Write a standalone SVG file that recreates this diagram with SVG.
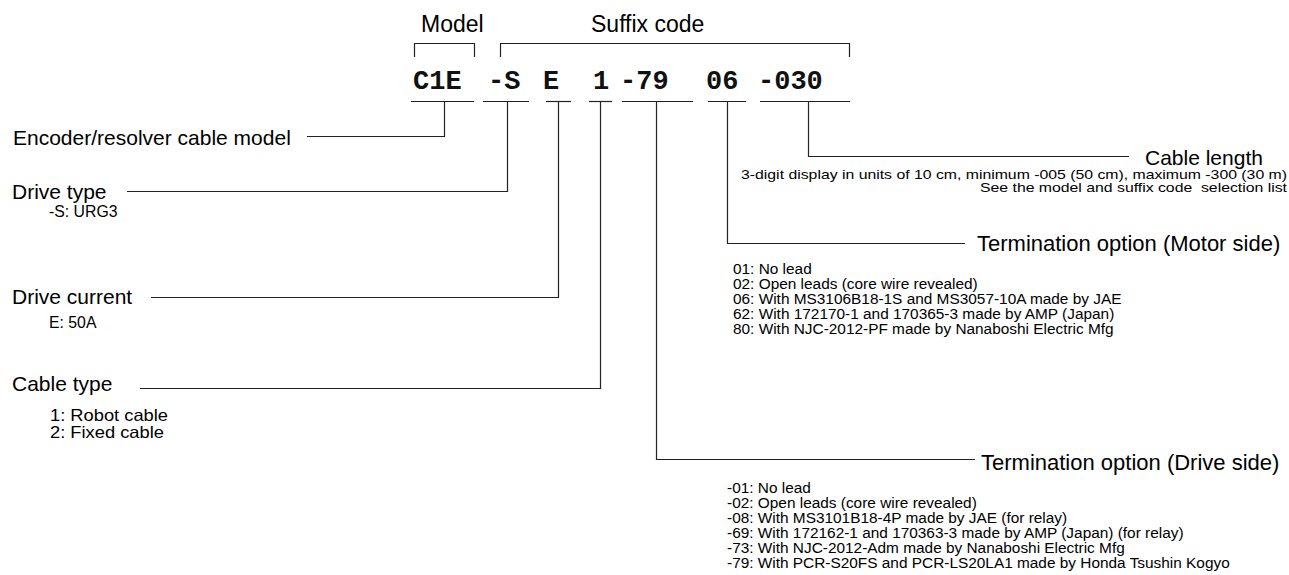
<svg xmlns="http://www.w3.org/2000/svg" width="1289" height="575" viewBox="0 0 1289 575">
<style>
.t{font-family:"Liberation Sans",Arial,sans-serif;fill:#000}
.big{font-size:21px}
.ttl{font-size:22px}
.top{font-size:23px}
.sm{font-size:15.8px}
.li{font-size:15.4px}
.code{font-family:"Liberation Mono","Courier New",monospace;font-weight:bold;font-size:27px;fill:#111}
.ln{fill:none;stroke:#222;stroke-width:1.2}
</style>
<rect width="1289" height="575" fill="#fff"/>
<g id="header">
<text class="t top" x="421" y="31.5">Model</text>
<text class="t top" x="591" y="31.5">Suffix code</text>
<path class="ln" d="M414.5,57 V43.5 H474.5 V57"/>
<path class="ln" d="M500.5,57 V43.5 H849.5 V57"/>
</g>
<g id="code">
<text class="code" x="413" y="89">C1E</text>
<text class="code" x="488" y="89">-S</text>
<text class="code" x="543" y="89">E</text>
<text class="code" x="593" y="89">1</text>
<text class="code" x="620" y="89">-79</text>
<text class="code" x="706" y="89">06</text>
<text class="code" x="758" y="89">-030</text>
</g>
<g id="connectors">
<path class="ln" d="M411,101.5 H474"/>
<path class="ln" d="M483,101.5 H529"/>
<path class="ln" d="M546,101.5 H571"/>
<path class="ln" d="M589,101.5 H612"/>
<path class="ln" d="M622,101.5 H693"/>
<path class="ln" d="M708,101.5 H746"/>
<path class="ln" d="M760,101.5 H850"/>
<path class="ln" d="M444.5,101.5 V136.5 H307"/>
<path class="ln" d="M507.5,101.5 V191.5 H127"/>
<path class="ln" d="M558.5,101.5 V297.5 H151"/>
<path class="ln" d="M600.5,101.5 V388.5 H140"/>
<path class="ln" d="M808.5,101.5 V156.5 H1129"/>
<path class="ln" d="M727.5,101.5 V243.5 H965"/>
<path class="ln" d="M656.5,101.5 V459.5 H975"/>
</g>
<g id="node-encoder">
<text class="t big" x="13" y="145">Encoder/resolver cable model</text>
</g>
<g id="node-drive-type">
<text class="t big" x="12" y="199">Drive type</text>
<text class="t sm" x="49" y="217">-S: URG3</text>
</g>
<g id="node-drive-current">
<text class="t big" x="12" y="304">Drive current</text>
<text class="t sm" x="49" y="328">E: 50A</text>
</g>
<g id="node-cable-type">
<text class="t big" x="12" y="391">Cable type</text>
<text class="t" x="50" y="421" style="font-size:16.5px" textLength="118" lengthAdjust="spacingAndGlyphs">1: Robot cable</text>
<text class="t" x="50" y="438" style="font-size:16.5px" textLength="114" lengthAdjust="spacingAndGlyphs">2: Fixed cable</text>
</g>
<g id="node-cable-length">
<text class="t big" x="1145" y="165">Cable length</text>
<text class="t" x="1287" y="178.5" text-anchor="end" style="font-size:13.5px" textLength="546" lengthAdjust="spacingAndGlyphs">3-digit display in units of 10 cm, minimum -005 (50 cm), maximum -300 (30 m)</text>
<text class="t" x="1287" y="191.5" text-anchor="end" style="font-size:13.5px" textLength="307" lengthAdjust="spacingAndGlyphs" xml:space="preserve">See the model and suffix code  selection list</text>
</g>
<g id="node-motor-side">
<text class="t ttl" x="977" y="251">Termination option (Motor side)</text>
<text class="t li" x="733" y="274">01: No lead</text>
<text class="t li" x="733" y="289">02: Open leads (core wire revealed)</text>
<text class="t li" x="733" y="304">06: With MS3106B18-1S and MS3057-10A made by JAE</text>
<text class="t li" x="733" y="319">62: With 172170-1 and 170365-3 made by AMP (Japan)</text>
<text class="t li" x="733" y="334">80: With NJC-2012-PF made by Nanaboshi Electric Mfg</text>
</g>
<g id="node-drive-side">
<text class="t ttl" x="981" y="470">Termination option (Drive side)</text>
<text class="t li" x="727" y="493">-01: No lead</text>
<text class="t li" x="727" y="508">-02: Open leads (core wire revealed)</text>
<text class="t li" x="727" y="523">-08: With MS3101B18-4P made by JAE (for relay)</text>
<text class="t li" x="727" y="538">-69: With 172162-1 and 170363-3 made by AMP (Japan) (for relay)</text>
<text class="t li" x="727" y="553">-73: With NJC-2012-Adm made by Nanaboshi Electric Mfg</text>
<text class="t li" x="727" y="568">-79: With PCR-S20FS and PCR-LS20LA1 made by Honda Tsushin Kogyo</text>
</g>
</svg>
